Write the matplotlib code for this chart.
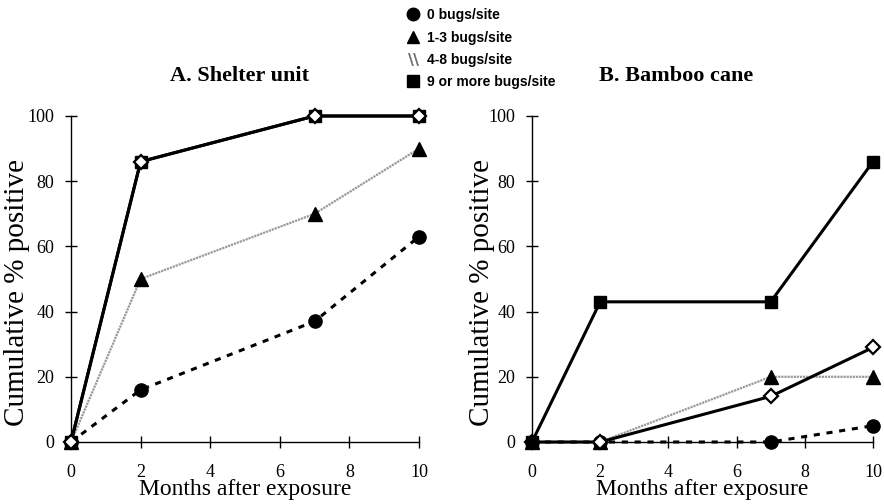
import numpy as np
import matplotlib
matplotlib.use('Agg')
import matplotlib.pyplot as plt
from matplotlib.lines import Line2D

#%% Data
months = [0, 2, 7, 10]

# A. Shelter unit
shelter_0 = [0, 16, 37, 63]
shelter_1_3 = [0, 50, 70, 90]
shelter_4_8 = [0, 86, 100, 100]
shelter_9 = [0, 86, 100, 100]

# B. Bamboo cane
bamboo_0 = [0, 0, 0, 5]
bamboo_1_3 = [0, 0, 20, 20]
bamboo_4_8 = [0, 0, 14, 29]
bamboo_9 = [0, 43, 43, 86]

legend_labels = ['0 bugs/site', '1-3 bugs/site', '4-8 bugs/site', '9 or more bugs/site']
titles = ['A. Shelter unit', 'B. Bamboo cane']

serif = 'Liberation Serif'
sans = 'Liberation Sans'

#%% Styles
st_0 = dict(color='k', lw=2.2, ls=(0, (2.0, 2.2)), marker='o', ms=9.5, mfc='k', mec='k')
st_13 = dict(color='0.6', lw=1.6, ls=(0, (1, 0.4)), marker='^', ms=9.5, mfc='k', mec='k')
st_48 = dict(color='k', lw=2.2, ls='-', marker='D', ms=7, mfc='w', mec='k', mew=1.6)
st_9 = dict(color='k', lw=2.2, ls='-', marker='s', ms=9, mfc='k', mec='k')

fig = plt.figure(figsize=(8.84, 5.04), dpi=100)
axA = fig.add_axes([71/884, 62/504, 348/884, 326/504])
axB = fig.add_axes([532/884, 62/504, 341/884, 326/504])


def style_axis(ax, ylab_x):
    ax.set_xlim(0, 10)
    ax.set_ylim(0, 100)
    ax.set_xticks(range(0, 11, 2))
    ax.set_yticks(range(0, 101, 20))
    for s in ['top', 'right']:
        ax.spines[s].set_visible(False)
    for s in ['left', 'bottom']:
        ax.spines[s].set_linewidth(1.0)
        ax.spines[s].set_color('k')
    ax.tick_params(axis='x', direction='inout', length=9, width=1, pad=11)
    ax.tick_params(axis='y', direction='inout', length=8, width=1, pad=8)
    for lab in ax.get_xticklabels() + ax.get_yticklabels():
        lab.set_fontfamily(serif)
        lab.set_fontsize(13)
    ax.set_xlabel('Months after exposure', family=serif, fontsize=17, labelpad=-1)
    ax.set_ylabel('Cumulative % positive', family=serif, fontsize=21)
    ax.yaxis.set_label_coords(ylab_x, 0.46)


#%% Panel A
axA.plot(months, shelter_0, clip_on=False, zorder=3, **st_0)
axA.plot(months, shelter_1_3, clip_on=False, zorder=3, **st_13)
axA.plot(months, shelter_9, clip_on=False, zorder=4, **st_9)
axA.plot(months, shelter_4_8, clip_on=False, zorder=5, **st_48)
style_axis(axA, -0.118)

#%% Panel B
axB.plot(months, bamboo_0, clip_on=False, zorder=3, **st_0)
axB.plot(months, bamboo_1_3, clip_on=False, zorder=3, **st_13)
axB.plot(months, bamboo_4_8, clip_on=False, zorder=4, **st_48)
axB.plot(months, bamboo_9, clip_on=False, zorder=5, **st_9)
style_axis(axB, -0.108)

#%% Titles
fig.text(240/884, 1 - 76/504, titles[0], family=serif, fontsize=16, fontweight='bold',
         ha='center', va='center')
fig.text(676/884, 1 - 76/504, titles[1], family=serif, fontsize=16, fontweight='bold',
         ha='center', va='center')

#%% Legend
handles = [
    Line2D([], [], ls='none', marker='o', ms=9, color='k'),
    Line2D([], [], ls='none', marker='^', ms=9, color='k'),
    Line2D([], [], ls='none', marker=r'$\backslash\backslash$', ms=9, color='0.4', mew=0.3),
    Line2D([], [], ls='none', marker='s', ms=8, color='k'),
]
fig.legend(handles, legend_labels, loc='upper left', bbox_to_anchor=(396/884, 1.0),
           frameon=False, handletextpad=0.4, labelspacing=0.6, handlelength=1.2,
           prop=dict(family=sans, weight='bold', size=10), borderaxespad=0.2)

fig.savefig('out.png', dpi=100)
